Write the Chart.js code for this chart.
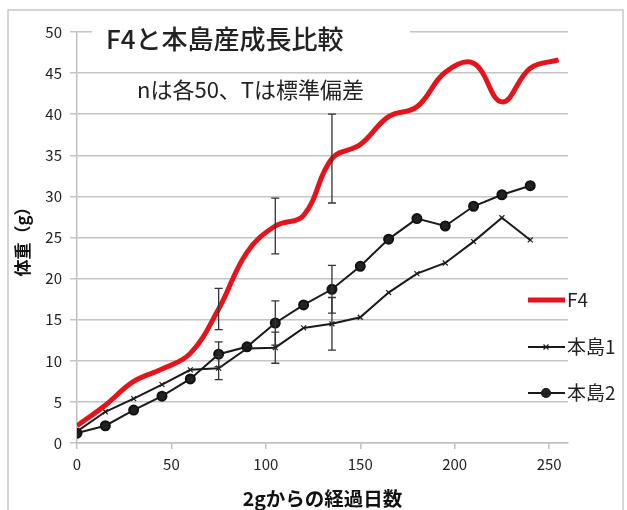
<!DOCTYPE html>
<html>
<head>
<meta charset="utf-8">
<script src="https://cdn.jsdelivr.net/npm/chart.js@4"></script>
<style>
  body { margin: 0; background: #fff; }
</style>
</head>
<body>
<canvas id="growth" width="627" height="510"></canvas>
<script>
const days = [0, 15, 30, 45, 60, 75, 90, 105, 120, 135, 150, 165, 180, 195, 210, 225, 240, 255];
const f4 = [2.1, 4.6, 7.5, 9.0, 10.9, 16.3, 23.2, 26.4, 27.7, 34.6, 36.3, 39.7, 40.9, 45.1, 46.2, 41.5, 45.6, 46.6];
const honto1 = [1.4, 3.8, 5.4, 7.1, 8.9, 9.1, 11.5, 11.6, 14.0, 14.5, 15.3, 18.3, 20.6, 21.9, 24.5, 27.4, 24.7];
const honto2 = [1.2, 2.1, 4.0, 5.7, 7.8, 10.8, 11.7, 14.6, 16.8, 18.7, 21.5, 24.8, 27.3, 26.4, 28.8, 30.2, 31.3];
// standard deviation, only where the error bars are drawn
const errDays = [75, 105, 135];
const f4Err = [2.5, 3.4, 5.4];
const honto1Err = [1.4, 1.9, 3.2];
const honto2Err = [1.5, 2.7, 2.9];
const yTicks = [0, 5, 10, 15, 20, 25, 30, 35, 40, 45, 50];
const xTicks = [0, 50, 100, 150, 200, 250];

const jp = '"Noto Sans CJK JP", "Noto Sans", sans-serif';
const toPoints = (vals) => vals.map((v, i) => ({ x: days[i], y: v }));

const errorBars = {
  id: 'errorBars',
  afterDatasetsDraw(chart) {
    const { ctx, scales: { x, y } } = chart;
    const sets = [[f4, f4Err], [honto1, honto1Err], [honto2, honto2Err]];
    ctx.save();
    ctx.strokeStyle = '#333';
    ctx.lineWidth = 1.3;
    sets.forEach(([vals, errs]) => {
      errDays.forEach((d, k) => {
        const v = vals[days.indexOf(d)];
        const px = x.getPixelForValue(d);
        const top = y.getPixelForValue(v + errs[k]);
        const bot = y.getPixelForValue(v - errs[k]);
        ctx.beginPath();
        ctx.moveTo(px, top); ctx.lineTo(px, bot);
        ctx.moveTo(px - 4, top); ctx.lineTo(px + 4, top);
        ctx.moveTo(px - 4, bot); ctx.lineTo(px + 4, bot);
        ctx.stroke();
      });
    });
    ctx.restore();
  }
};

const decorations = {
  id: 'decorations',
  beforeDraw(chart) {
    const { ctx } = chart;
    ctx.save();
    ctx.strokeStyle = '#c8c8c8';
    ctx.lineWidth = 1.5;
    ctx.strokeRect(8, 10, 615, 520);
    ctx.restore();
  },
  afterDraw(chart) {
    const { ctx } = chart;
    ctx.save();
    ctx.fillStyle = '#fff';
    ctx.fillRect(92, 22, 318, 32);
    ctx.fillStyle = '#222';
    ctx.textBaseline = 'middle';
    ctx.font = '500 26px ' + jp;
    ctx.fillText('F4と本島産成長比較', 106, 39);
    ctx.font = '22px ' + jp;
    ctx.fillText('nは各50、Tは標準偏差', 137, 90);

    // legend
    const items = chart.data.datasets;
    const rows = [300, 347, 393];
    items.forEach((ds, i) => {
      const ly = rows[i];
      ctx.strokeStyle = ds.borderColor;
      ctx.lineWidth = ds.borderWidth;
      ctx.beginPath();
      ctx.moveTo(528, ly); ctx.lineTo(565, ly);
      ctx.stroke();
      if (ds.pointRadius > 0) {
        ctx.lineWidth = 1.2;
        ctx.fillStyle = ds.pointBackgroundColor;
        Chart.helpers.drawPoint(ctx, { pointStyle: ds.pointStyle, radius: ds.pointRadius, rotation: 0, borderWidth: 1.2 }, 546, ly);
      }
      ctx.fillStyle = '#222';
      ctx.font = '19px ' + jp;
      ctx.fillText(ds.label, 567, ly);
    });
    ctx.restore();
  }
};

new Chart(document.getElementById('growth').getContext('2d'), {
  type: 'line',
  data: {
    datasets: [
      {
        label: 'F4',
        data: toPoints(f4),
        borderColor: '#e3141c',
        borderWidth: 5,
        tension: 0.4,
        pointRadius: 0
      },
      {
        label: '本島1',
        data: toPoints(honto1),
        borderColor: '#1a1a1a',
        borderWidth: 2,
        tension: 0,
        pointStyle: 'crossRot',
        pointRadius: 3.5,
        pointBorderWidth: 1.2,
        pointBackgroundColor: '#1a1a1a'
      },
      {
        label: '本島2',
        data: toPoints(honto2),
        borderColor: '#1a1a1a',
        borderWidth: 2,
        tension: 0,
        pointStyle: 'circle',
        pointRadius: 4.5,
        pointBackgroundColor: '#222',
        pointBorderColor: '#111'
      }
    ]
  },
  options: {
    responsive: false,
    animation: false,
    layout: { padding: { left: 0, top: 32, right: 59, bottom: 0 } },
    plugins: {
      legend: { display: false },
      tooltip: { enabled: false }
    },
    scales: {
      x: {
        type: 'linear',
        min: 0,
        max: 260,
        afterBuildTicks: (s) => { s.ticks = xTicks.map(v => ({ value: v })); },
        afterFit: (s) => { s.height = 67; },
        grid: { drawOnChartArea: false, drawTicks: true, tickLength: 6, color: '#c0c0c0', lineWidth: 1.5 },
        border: { color: '#c0c0c0', width: 1.5 },
        ticks: { color: '#222', font: { family: jp, size: 15 }, padding: 6, maxRotation: 0 },
        title: { display: true, text: '2gからの経過日数', color: '#111', font: { family: jp, size: 19.5, weight: 'bold' }, padding: { bottom: 0 } }
      },
      y: {
        min: 0,
        max: 50,
        afterBuildTicks: (s) => { s.ticks = yTicks.map(v => ({ value: v })); },
        afterFit: (s) => { s.width = 77; },
        grid: { color: '#c4c4c4', lineWidth: 1.5, tickLength: 7 },
        border: { color: '#c0c0c0', width: 1.5 },
        ticks: { color: '#222', font: { family: jp, size: 15 }, padding: 8 },
        title: { display: true, text: '体重（g）', color: '#111', font: { family: jp, size: 17, weight: 'bold' }, padding: { top: 12 } }
      }
    }
  },
  plugins: [errorBars, decorations]
});
</script>
</body>
</html>
